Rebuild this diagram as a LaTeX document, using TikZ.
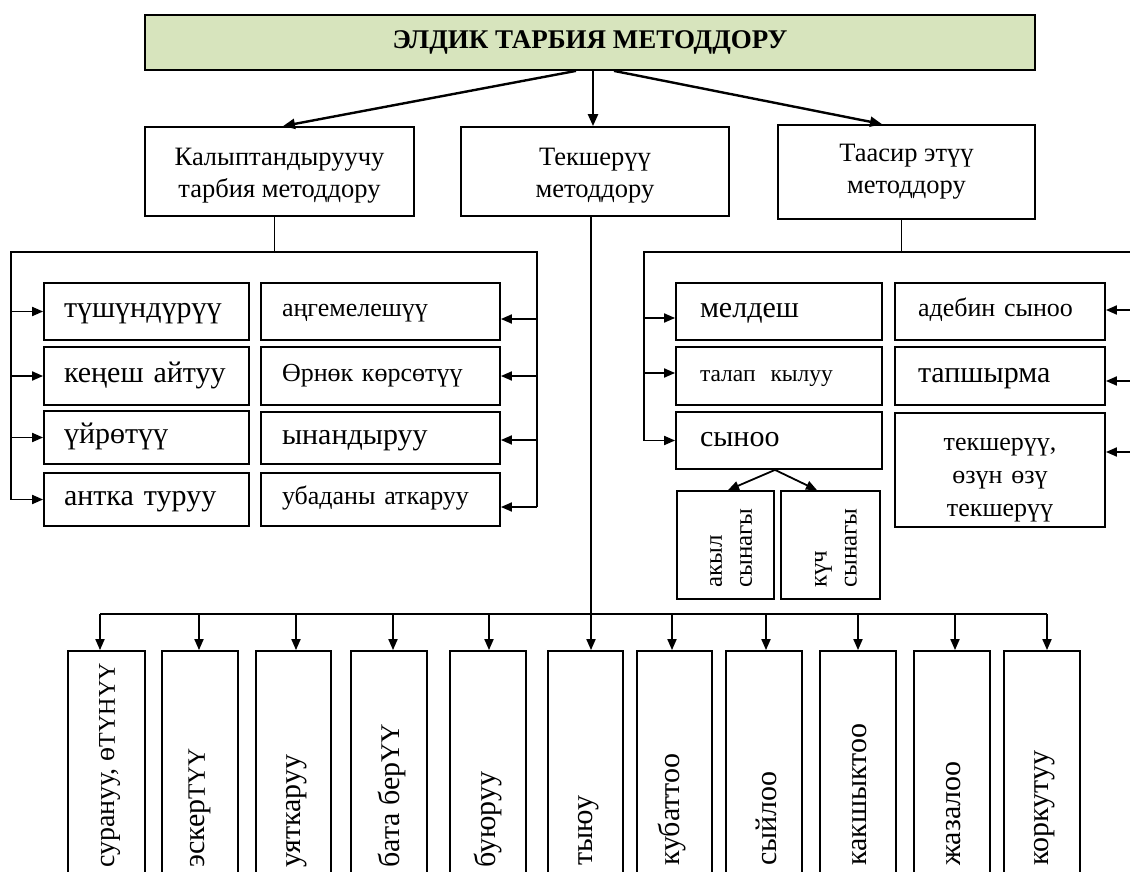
\documentclass[tikz,border=0pt]{standalone}
\usepackage{fontspec}
\setmainfont{Liberation Serif}
\usetikzlibrary{arrows.meta,calc}
\definecolor{titlegreen}{HTML}{D7E4BD}
\newcommand{\capsz}[1]{{\fontsize{#1}{#1}\selectfont}}
\begin{document}
\begin{tikzpicture}[x=1pt,y=-1pt,
  box/.style={draw=black,line width=1.8pt,inner sep=0pt},
  big/.style={font=\fontsize{30}{34}\selectfont,text height=20pt,text depth=8pt},
  small/.style={font=\fontsize{26}{30}\selectfont,text height=17pt,text depth=7pt},
  mid/.style={font=\fontsize{26}{30}\selectfont,text height=17pt,text depth=7pt},
  lvl/.style={font=\fontsize{26.5}{32}\selectfont,align=center},
  vtxt/.style={rotate=90,anchor=west,inner sep=0pt,font=\fontsize{30}{34}\selectfont},
  stxt/.style={rotate=90,anchor=west,inner sep=0pt,align=left,font=\fontsize{25}{30}\selectfont},
  bus/.style={line width=1.6pt},
  arr/.style={line width=1.8pt,-{Triangle[length=11pt,width=9pt]}},
  tarr/.style={line width=2.4pt,-{Triangle[length=12pt,width=10pt]}}
]
\useasboundingbox (0,0) rectangle (1130,872);
\clip (0,0) rectangle (1130,872);

% title
\node[box,fill=titlegreen,minimum width=890pt,minimum height=55pt,font=\fontsize{27}{30}\selectfont\bfseries] (title) at (590,42.5) {ЭЛДИК ТАРБИЯ МЕТОДДОРУ};

% level 2
\node[box,minimum width=269pt,minimum height=89pt,lvl] (L1) at (279.5,171.5) {\rule{0pt}{26pt}Калыптандыруучу\\тарбия методдору};
\node[box,minimum width=268pt,minimum height=89pt,lvl] (M) at (595,171.5) {\rule{0pt}{26pt}Текшерүү\\методдору};
\node[box,minimum width=257pt,minimum height=94pt,lvl] (R) at (906.5,172) {Таасир этүү\\методдору};

\draw[tarr] ([xshift=-14pt]title.south) -- ([xshift=3.5pt]L1.north);
\draw[tarr] ([xshift=3pt]title.south) -- ([xshift=-2pt]M.north);
\draw[tarr] ([xshift=24pt]title.south) -- ([xshift=-24.5pt]R.north);

% left group
\node[box,minimum width=205pt,minimum height=57pt,text width=165pt,inner xsep=20pt,align=left,big] (a1) at (146.5,311.5) {түшүндүрүү};
\node[box,minimum width=205pt,minimum height=58pt,text width=165pt,inner xsep=20pt,align=left,big] (a2) at (146.5,376) {кеңеш айтуу};
\node[box,minimum width=205pt,minimum height=53pt,text width=165pt,inner xsep=20pt,align=left,big] (a3) at (146.5,437.5) {үйрөтүү};
\node[box,minimum width=205pt,minimum height=53pt,text width=165pt,inner xsep=20pt,align=left,big] (a4) at (146.5,499.5) {антка туруу};

\node[box,minimum width=239pt,minimum height=57pt,text width=197pt,inner xsep=21pt,align=left,small] (b1) at (380.5,311.5) {аңгемелешүү};
\node[box,minimum width=239pt,minimum height=58pt,text width=197pt,inner xsep=21pt,align=left,small] (b2) at (380.5,376) {Өрнөк көрсөтүү};
\node[box,minimum width=239pt,minimum height=52pt,text width=197pt,inner xsep=21pt,align=left,big] (b3) at (380.5,438) {ынандыруу};
\node[box,minimum width=239pt,minimum height=53pt,text width=197pt,inner xsep=21pt,align=left,mid] (b4) at (380.5,499.5) {убаданы аткаруу};

\coordinate (LH) at ($(L1.south)+(-5,36)$);
\coordinate (LL) at (11,252);
\coordinate (LR) at (537,252);
\draw[bus] ([xshift=-5pt]L1.south) -- (LH);
\draw[bus] (a4.west -| LL) -- (LL) -- (LR) -- ($(b4.east -| LR)+(0,7.5)$);
\draw[arr] (a1.west -| LL) -- (a1.west);
\draw[arr] (a2.west -| LL) -- (a2.west);
\draw[arr] (a3.west -| LL) -- (a3.west);
\draw[arr] (a4.west -| LL) -- (a4.west);
\draw[arr] ($(b1.east -| LR)+(0,7.5)$) -- ($(b1.east)+(0,7.5)$);
\draw[arr] (b2.east -| LR) -- (b2.east);
\draw[arr] ($(b3.east -| LR)+(0,2)$) -- ($(b3.east)+(0,2)$);
\draw[arr] ($(b4.east -| LR)+(0,7.5)$) -- ($(b4.east)+(0,7.5)$);

% right group
\node[box,minimum width=206pt,minimum height=57pt,text width=182pt,inner xsep=12pt,align=left,big] (c1) at (779,311.5) {\hspace{12pt}мелдеш};
\node[box,minimum width=206pt,minimum height=58pt,text width=182pt,inner xsep=12pt,align=left,small,font=\fontsize{23.5}{28}\selectfont] (c2) at (779,376) {\hspace{12pt}талап\hspace{0.3em} кылуу};
\node[box,minimum width=206pt,minimum height=57pt,text width=182pt,inner xsep=12pt,align=left,big] (c3) at (779,440.5) {\hspace{12pt}сыноо};

\node[box,minimum width=210pt,minimum height=57pt,text width=188pt,inner xsep=11pt,align=left,small] (d1) at (1000,311.5) {\hspace{12pt}адебин сыноо};
\node[box,minimum width=210pt,minimum height=58pt,text width=188pt,inner xsep=11pt,align=left,big] (d2) at (1000,376) {\hspace{12pt}тапшырма};
\node[box,minimum width=210pt,minimum height=114pt,text width=190pt,inner xsep=10pt,align=center,font=\fontsize{26}{33}\selectfont] (d3) at (1000,470) {\rule{0pt}{32pt}текшерүү,\\өзүн өзү\\текшерүү};

\coordinate (RH) at ($(R.south)+(-5,33)$);
\coordinate (RL) at (644,252);
\coordinate (RR) at (1145,252);
\draw[bus] ([xshift=-5pt]R.south) -- (RH);
\draw[bus] (c3.west -| RL) -- (RL) -- (RR) -- ($(d3.east -| RR)+(0,-18)$);
\draw[arr] ($(c1.west -| RL)+(0,6.5)$) -- ($(c1.west)+(0,6.5)$);
\draw[arr] ($(c2.west -| RL)+(0,-3)$) -- ($(c2.west)+(0,-3)$);
\draw[arr] (c3.west -| RL) -- (c3.west);
\draw[arr] ($(d1.east -| RR)+(0,-1.5)$) -- ($(d1.east)+(0,-1.5)$);
\draw[arr] ($(d2.east -| RR)+(0,5)$) -- ($(d2.east)+(0,5)$);
\draw[arr] ($(d3.east -| RR)+(0,-18)$) -- ($(d3.east)+(0,-18)$);

% test boxes
\node[box,minimum width=97pt,minimum height=108pt] (e1) at (725.5,545) {};
\node[box,minimum width=99pt,minimum height=108pt] (e2) at (830.5,545) {};
\node[stxt] (e1t) at (731,588) {акыл\\сынагы};
\node[stxt] (e2t) at (836,588) {күч\\сынагы};
\draw[arr] ([xshift=-4pt]c3.south) -- ([xshift=2.5pt]e1.north);
\draw[arr] ([xshift=-4pt]c3.south) -- ([xshift=-13.5pt]e2.north);

% bottom row
\node[box,minimum width=77pt,minimum height=260pt] (f1) at (106.5,781) {};
\node[box,minimum width=76pt,minimum height=260pt] (f2) at (200,781) {};
\node[box,minimum width=75pt,minimum height=260pt] (f3) at (293.5,781) {};
\node[box,minimum width=76pt,minimum height=260pt] (f4) at (389,781) {};
\node[box,minimum width=76pt,minimum height=260pt] (f5) at (488,781) {};
\node[box,minimum width=75pt,minimum height=260pt] (f6) at (585.5,781) {};
\node[box,minimum width=75pt,minimum height=260pt] (f7) at (674.5,781) {};
\node[box,minimum width=76pt,minimum height=260pt] (f8) at (764,781) {};
\node[box,minimum width=76pt,minimum height=260pt] (f9) at (858,781) {};
\node[box,minimum width=76pt,minimum height=260pt] (f10) at (952,781) {};
\node[box,minimum width=76pt,minimum height=260pt] (f11) at (1042,781) {};

\node[vtxt,font=\fontsize{28}{34}\selectfont] (f1t) at (110,868) {сурануу, ө{\fontsize{24}{28}\selectfont ТҮНҮҮ}};
\node[vtxt] (f2t) at (200,868) {эскер{\fontsize{25}{28}\selectfont ТҮҮ}};
\node[vtxt] (f3t) at (297,868) {уяткаруу};
\node[vtxt] (f4t) at (392,868) {бата бер{\fontsize{27}{28}\selectfont ҮҮ}};
\node[vtxt] (f5t) at (488,868) {буюруу};
\node[vtxt] (f6t) at (589,866) {тыюу};
\node[vtxt] (f7t) at (672,866) {кубаттоо};
\node[vtxt] (f8t) at (766,866) {сыйлоо};
\node[vtxt] (f9t) at (860,866) {какшыктоо};
\node[vtxt] (f10t) at (954,866) {жазалоо};
\node[vtxt] (f11t) at (1045,866) {коркутуу};

\coordinate (BL) at ($(f1.north)+(-6.5,-36)$);
\coordinate (BR) at ($(f11.north)+(5,-36)$);
\coordinate (BM) at ($(f6.north)+(5.5,-36)$);
\draw[bus] (BL) -- (BR);
\draw[bus] ([xshift=-4pt]M.south) -- (BM);
\draw[arr] (BL) -- ($(f1.north)+(-6.5,0)$);
\draw[arr] ($(f2.north)+(-1,-36)$) -- ($(f2.north)+(-1,0)$);
\draw[arr] ($(f3.north)+(2.5,-36)$) -- ($(f3.north)+(2.5,0)$);
\draw[arr] ($(f4.north)+(4,-36)$) -- ($(f4.north)+(4,0)$);
\draw[arr] ($(f5.north)+(1,-36)$) -- ($(f5.north)+(1,0)$);
\draw[arr] (BM) -- ($(f6.north)+(5.5,0)$);
\draw[arr] ($(f7.north)+(-2.5,-36)$) -- ($(f7.north)+(-2.5,0)$);
\draw[arr] ($(f8.north)+(2,-36)$) -- ($(f8.north)+(2,0)$);
\draw[arr] ($(f9.north)+(0,-36)$) -- ($(f9.north)+(0,0)$);
\draw[arr] ($(f10.north)+(3,-36)$) -- ($(f10.north)+(3,0)$);
\draw[arr] (BR) -- ($(f11.north)+(5,0)$);
\end{tikzpicture}
\end{document}
